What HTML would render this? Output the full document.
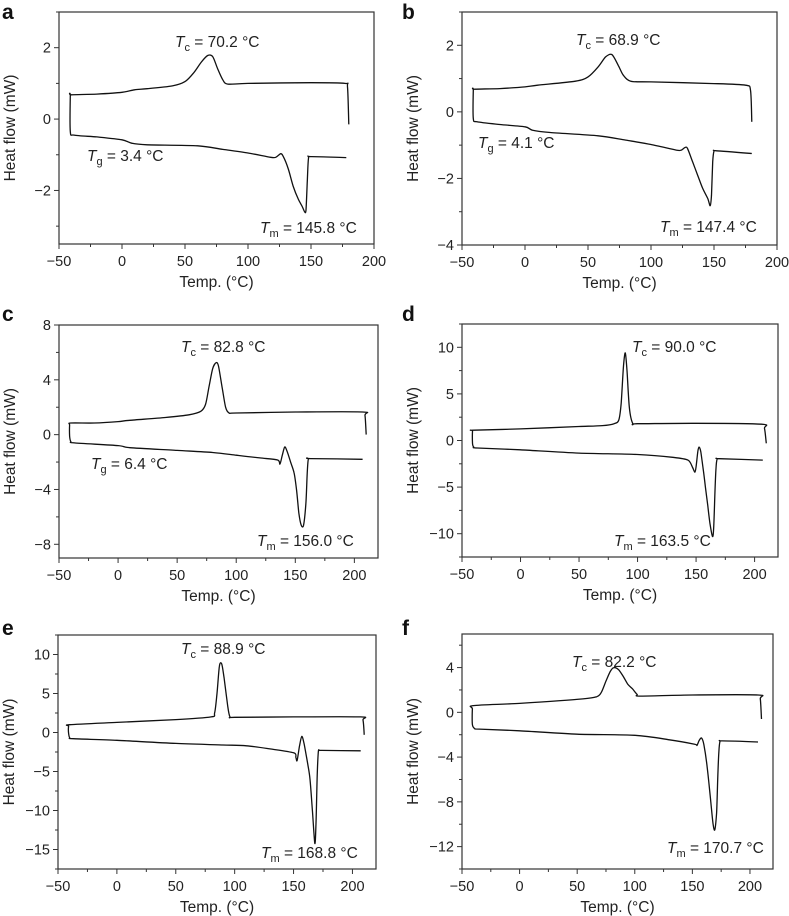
<!DOCTYPE html>
<html><head><meta charset="utf-8">
<style>
html,body{margin:0;padding:0;background:#fff;}
svg{display:block;font-family:"Liberation Sans",Arial,sans-serif;}
</style></head>
<body>
<svg id="fig" width="789" height="916" viewBox="0 0 789 916" xmlns="http://www.w3.org/2000/svg"></svg>
<script>
// ----- data (temperature °C, heat flow mW) -----
const aTemp=[180,179,177,150,100,84,80,76,72,68,63,57,50,40,20,10,0,-20,-40,-41,-41,-38,-20,0,8,20,60,80,100,118,122,126,128,132,136,140,143,145,146,147,148,150,178];
const aFlow=[-0.15,0.9,1.0,1.02,1.0,0.98,1.1,1.4,1.75,1.78,1.6,1.3,1.05,0.93,0.85,0.82,0.75,0.7,0.68,0.65,-0.35,-0.45,-0.5,-0.58,-0.68,-0.72,-0.75,-0.85,-0.95,-1.07,-1.07,-0.97,-1.05,-1.4,-1.9,-2.25,-2.45,-2.6,-2.55,-1.8,-1.1,-1.05,-1.08];
const bTemp=[180,179,175,150,100,84,78,74,69,64,58,50,40,10,0,-20,-40,-41,-41,-38,-20,0,6,20,58,80,100,120,124,127,129,133,137,141,145,147,148,149,150,152,180];
const bFlow=[-0.3,0.65,0.8,0.85,0.9,0.92,1.1,1.4,1.72,1.65,1.35,1.05,0.92,0.8,0.75,0.7,0.68,0.65,-0.2,-0.3,-0.38,-0.45,-0.55,-0.62,-0.72,-0.85,-0.98,-1.15,-1.15,-1.07,-1.1,-1.5,-1.9,-2.3,-2.6,-2.82,-2.5,-1.5,-1.18,-1.17,-1.25];
const cTemp=[210,209,207,150,100,94,91,88,85,83,80,77,74,70,60,40,10,0,-20,-40,-41,-41,-40,-37,0,10,50,80,100,120,135,137,139,141,143,146,149,151,153,155,157,159,160,161,163,207];
const cFlow=[0,1.4,1.65,1.65,1.58,1.58,2,3.5,5,5.25,4.8,3.5,2.2,1.7,1.45,1.25,1.05,0.95,0.85,0.85,0.7,-0.1,-0.5,-0.6,-0.8,-0.95,-1.15,-1.3,-1.5,-1.7,-1.85,-2.15,-1.5,-0.9,-1.2,-2,-2.8,-4,-5.7,-6.6,-6.6,-5,-3,-1.8,-1.75,-1.8];
const dTemp=[210,208.5,206,150,100,96,93,91,89.5,88,86,84,80,70,50,0,-40,-41,-41,-40,-37,0,50,100,130,143,147,149,150,151.5,152.5,154,156,158,160,162,164,165,166,167,168,170,207];
const dFlow=[-0.3,1.3,1.75,1.85,1.8,1.8,3.5,7.5,9.4,8,4,2.2,1.8,1.6,1.5,1.25,1.1,1.0,-0.3,-0.7,-0.8,-1.0,-1.35,-1.5,-1.8,-2.1,-2.9,-3.4,-2.8,-1.2,-0.7,-1.2,-3,-5,-7,-9,-10.3,-9.5,-6,-3,-2,-1.95,-2.1];
const eTemp=[210,209,207,150,100,96,94,91,89,87,85,83,80,50,0,-40,-41,-41,-40,-37,0,50,90,110,130,150,152,153,155,157,159,162,164,166,168,169,170,171,172,174,207];
const eFlow=[-0.3,1.6,2,2,1.95,2,3.5,7,8.8,8.5,5,2.5,2.0,1.65,1.3,1.0,0.8,-0.1,-0.7,-0.8,-1.0,-1.4,-1.6,-1.7,-2.1,-2.6,-3.2,-3.6,-1.8,-0.5,-1.5,-4,-6,-10,-14.2,-12,-6,-2.5,-2.3,-2.3,-2.35];
const fTemp=[210,209,207,150,105,102,98,94,90,86,82,79,75,71,67,55,0,-40,-41,-41,-39,-35,0,50,100,130,152,154,156,158,160,163,166,168,169.5,171,172,173,174,176,207];
const fFlow=[-0.6,1.2,1.55,1.55,1.45,1.6,2.1,2.5,3.2,3.8,4.0,3.7,2.8,1.8,1.4,1.2,0.8,0.6,0.3,-1.1,-1.45,-1.5,-1.65,-1.95,-2.05,-2.45,-2.85,-2.95,-2.5,-2.3,-2.9,-5,-8,-10,-10.5,-9,-6,-3.5,-2.6,-2.55,-2.65];
// tick labels
const xTicksA=[-50,0,50,100,150,200];
const xTicksC=[-50,0,50,100,150,200];
const yTicksA=[-2,0,2];
const yTicksB=[-4,-2,0,2];
const yTicksC=[-8,-4,0,4,8];
const yTicksD=[-10,-5,0,5,10];
const yTicksE=[-15,-10,-5,0,5,10];
const yTicksF=[-12,-8,-4,0,4];
const tcLabels=["70.2","68.9","82.8","90.0","88.9","82.2"];
const tgLabels=["3.4","4.1","6.4",null,null,null];
const tmLabels=["145.8","147.4","156.0","163.5","168.8","170.7"];

const panels=[
 {id:'a',T:aTemp,H:aFlow,box:[59,12,374,244],xl:[-50,200],yl:[-3.5,3],xt:xTicksA,yt:yTicksA,yminor:1,tc:[175,47],tg:[87,161],tm:[260,233],letter:[2,19]},
 {id:'b',T:bTemp,H:bFlow,box:[462,12,777,245],xl:[-50,200],yl:[-4,3],xt:xTicksA,yt:yTicksB,yminor:1,tc:[576,45],tg:[478,148],tm:[660,232],letter:[402,19]},
 {id:'c',T:cTemp,H:cFlow,box:[59,325,378,558],xl:[-50,220],yl:[-9,8],xt:xTicksC,yt:yTicksC,yminor:2,tc:[181,352],tg:[91,469],tm:[257,546],letter:[2,321]},
 {id:'d',T:dTemp,H:dFlow,box:[462,324,778,557],xl:[-50,220],yl:[-12.5,12.5],xt:xTicksC,yt:yTicksD,yminor:2.5,tc:[632,352],tg:null,tm:[614,546],letter:[402,321]},
 {id:'e',T:eTemp,H:eFlow,box:[58,635,376,869],xl:[-50,220],yl:[-17.5,12.5],xt:xTicksC,yt:yTicksE,yminor:2.5,tc:[181,654],tg:null,tm:[261,858],letter:[2,635]},
 {id:'f',T:fTemp,H:fFlow,box:[462,634,773,869],xl:[-50,220],yl:[-14,7],xt:xTicksC,yt:yTicksF,yminor:2,tc:[572,667],tg:null,tm:[667,853],letter:[402,635]}
];
const NS='http://www.w3.org/2000/svg';
const svg=document.getElementById('fig');
function mk(tag,attrs,parent){const e=document.createElementNS(NS,tag);for(const k in attrs)e.setAttribute(k,attrs[k]);(parent||svg).appendChild(e);return e;}
function annot(g,x,y,sym,sub,val){
  const t=mk('text',{x:x,y:y,'font-size':15.5,fill:'#222'},g);
  const s1=document.createElementNS(NS,'tspan');s1.setAttribute('font-style','italic');s1.textContent=sym;t.appendChild(s1);
  const s2=document.createElementNS(NS,'tspan');s2.setAttribute('font-size','11');s2.setAttribute('dy','4');s2.textContent=sub;t.appendChild(s2);
  const s3=document.createElementNS(NS,'tspan');s3.setAttribute('dy','-4');s3.textContent=' = '+val+' °C';t.appendChild(s3);
  return t;
}
function smoothPath(pts){
  let d='M'+pts[0][0].toFixed(1)+','+pts[0][1].toFixed(1);
  const k=1/7;
  for(let i=0;i<pts.length-1;i++){
    const p0=pts[Math.max(0,i-1)],p1=pts[i],p2=pts[i+1],p3=pts[Math.min(pts.length-1,i+2)];
    const c1x=p1[0]+(p2[0]-p0[0])*k,c1y=p1[1]+(p2[1]-p0[1])*k;
    const c2x=p2[0]-(p3[0]-p1[0])*k,c2y=p2[1]-(p3[1]-p1[1])*k;
    d+='C'+c1x.toFixed(1)+','+c1y.toFixed(1)+' '+c2x.toFixed(1)+','+c2y.toFixed(1)+' '+p2[0].toFixed(1)+','+p2[1].toFixed(1);
  }
  return d;
}
panels.forEach((p,i)=>{
  const [L,T,R,B]=p.box;
  const xs=v=>L+(v-p.xl[0])/(p.xl[1]-p.xl[0])*(R-L);
  const ys=v=>B-(v-p.yl[0])/(p.yl[1]-p.yl[0])*(B-T);
  const g=mk('g',{});
  
  
  const lt=mk('text',{x:p.letter[0],y:p.letter[1],'font-size':21,'font-weight':'bold',fill:'#111'},g);
  lt.textContent=p.id;
  
  
  const fr=mk('rect',{x:L,y:T,width:R-L,height:B-T,fill:'none',stroke:'#333','stroke-width':1.2},g);
  
  
  for(let v=p.xl[0];v<=p.xl[1]+0.01;v+=25){
    const major=(v%50===0);
    mk('line',{x1:xs(v),x2:xs(v),y1:B,y2:B+(major?5:3),stroke:'#333','stroke-width':1},g);
  }
  p.xt.forEach(v=>{
    const t=mk('text',{x:xs(v),y:B+22,'font-size':14.5,'text-anchor':'middle',fill:'#222'},g);
    t.textContent=v<0?'\u2212'+(-v):v;
    
    
  });
  const st=p.yminor;
  for(let v=Math.ceil(p.yl[0]/st)*st;v<=p.yl[1]+1e-6;v+=st){
    const major=p.yt.some(m=>Math.abs(m-v)<1e-6);
    mk('line',{x1:L,x2:L-(major?5:3),y1:ys(v),y2:ys(v),stroke:'#333','stroke-width':1},g);
  }
  p.yt.forEach(v=>{
    const t=mk('text',{x:L-8,y:ys(v)+5,'font-size':14.5,'text-anchor':'end',fill:'#222'},g);
    t.textContent=v<0?'\u2212'+(-v):v;
    
    
  });
  const xt=mk('text',{x:(L+R)/2,y:B+43,'font-size':15.5,'text-anchor':'middle',fill:'#222'},g);
  xt.textContent='Temp. (°C)';
  
  
  const cx=L-44,cy=(T+B)/2;
  const yt=mk('text',{x:cx,y:cy,'font-size':15.5,'text-anchor':'middle',fill:'#222',transform:'rotate(-90 '+cx+' '+cy+')'},g);
  yt.textContent='Heat flow (mW)';
  
  
  const pts=p.T.map((t,k)=>[xs(t),ys(p.H[k])]);
  const path=mk('path',{d:smoothPath(pts),fill:'none',stroke:'#111','stroke-width':1.3,'stroke-linejoin':'round'},g);
  
  
  const a1=annot(g,p.tc[0],p.tc[1],'T','c',tcLabels[i]);
  
  
  if(p.tg&&tgLabels[i]){
    const a2=annot(g,p.tg[0],p.tg[1],'T','g',tgLabels[i]);
    
    
  }
  const a3=annot(g,p.tm[0],p.tm[1],'T','m',tmLabels[i]);
  
  
});
</script>
</body></html>
